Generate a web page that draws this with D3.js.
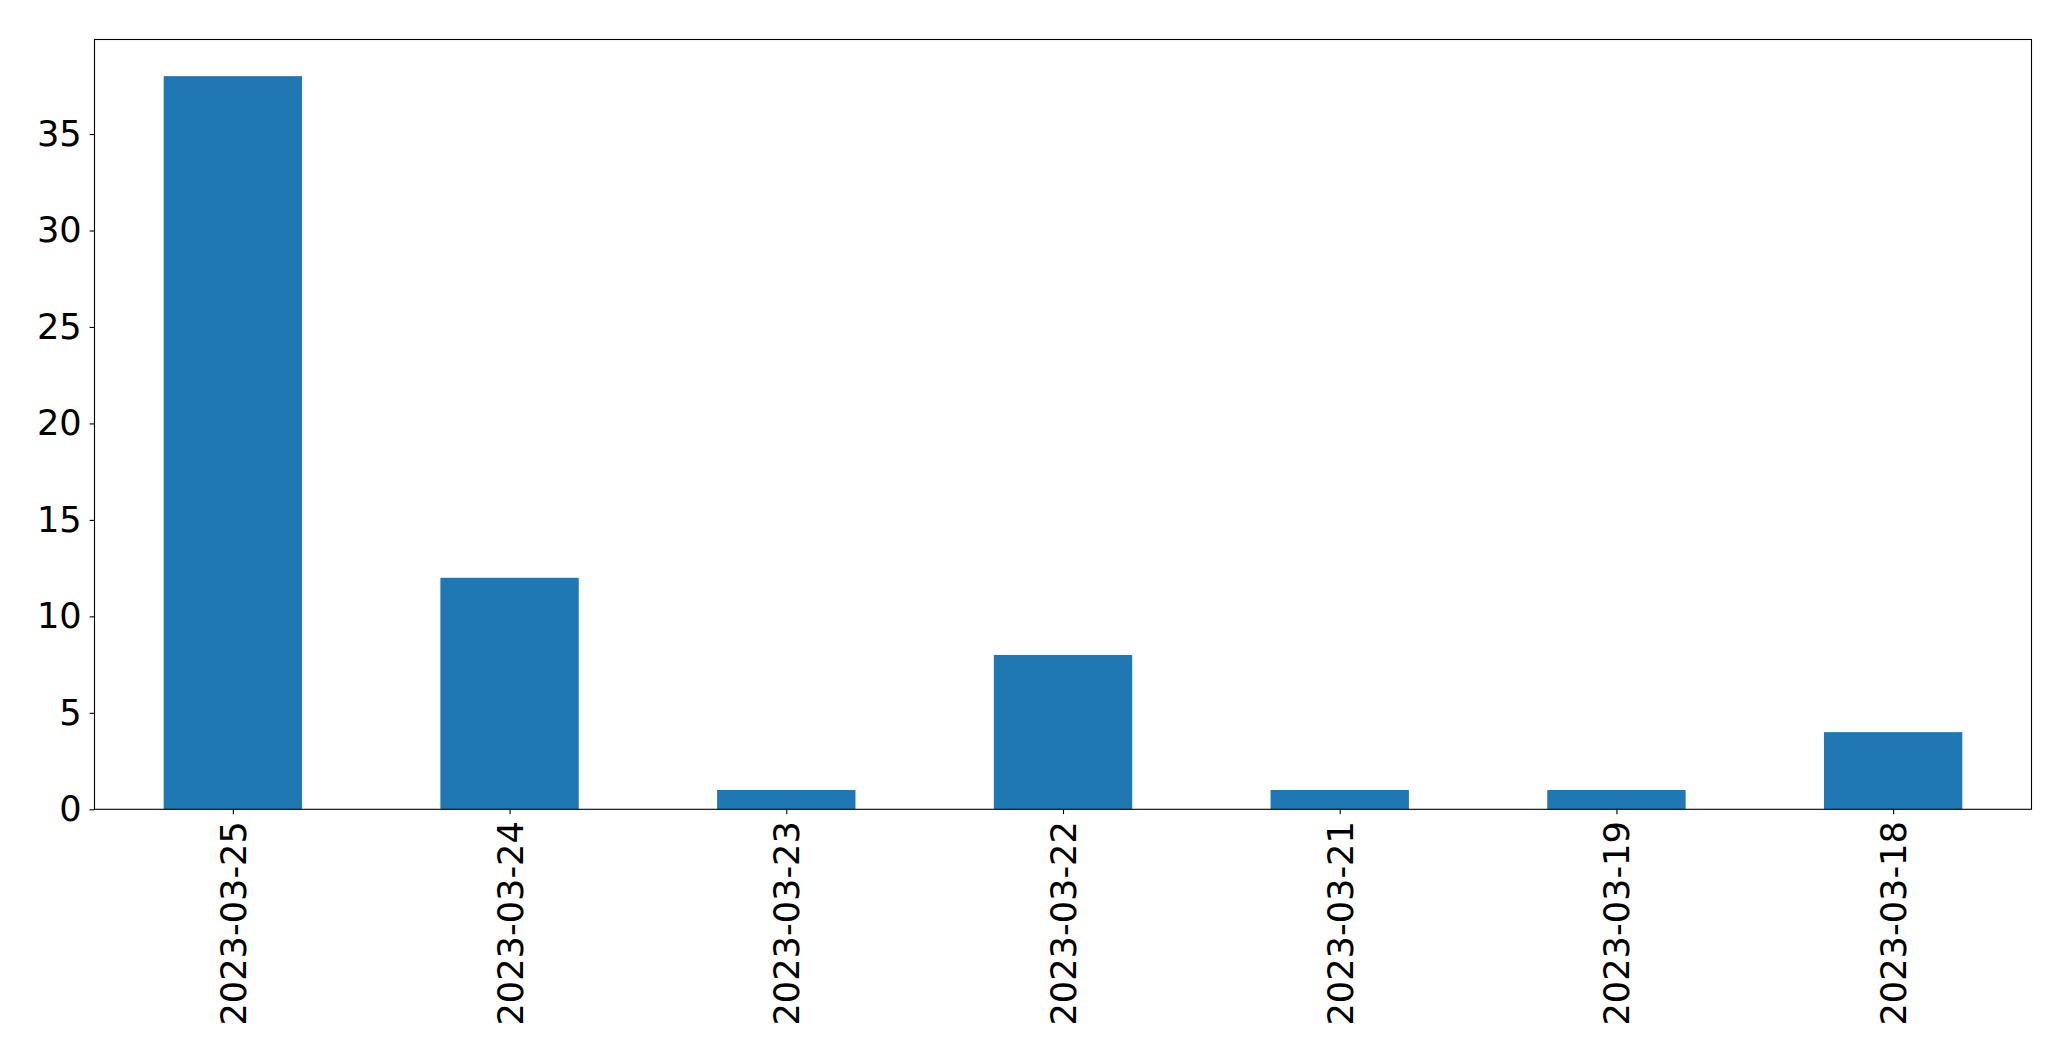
<!DOCTYPE html>
<html>
<head>
<meta charset="utf-8">
<script src="https://cdn.jsdelivr.net/npm/d3@7"></script>
<style>
  html, body { margin: 0; padding: 0; background: #fff; }
  svg { display: block; }
  text { font-family: "DejaVu Sans", sans-serif; fill: #000; }
</style>
</head>
<body>
<svg id="chart" width="2071" height="1061"></svg>
<script>
const categories = ["2023-03-25", "2023-03-24", "2023-03-23", "2023-03-22", "2023-03-21", "2023-03-19", "2023-03-18"];
const values = [38, 12, 1, 8, 1, 1, 4];
const yTicks = [0, 5, 10, 15, 20, 25, 30, 35];

(function () {
const mLeft = 94.5, mRight = 2031.5, mTop = 39.5, mBottom = 809.3;
const fontSize = 35.2;
const tickLen = 4.9, tickPad = 4.9;

const svg = d3.select("#chart");

const x = d3.scaleLinear().domain([-0.5, categories.length - 0.5]).range([mLeft, mRight]);
const y = d3.scaleLinear().domain([0, d3.max(values) * 1.05]).range([mBottom, mTop]);
const barW = x(0.25) - x(-0.25);

// bars
svg.append("g").selectAll("rect")
  .data(values)
  .join("rect")
  .attr("x", (d, i) => x(i) - barW / 2)
  .attr("width", barW)
  .attr("y", d => y(d))
  .attr("height", d => y(0) - y(d))
  .attr("fill", "#1f77b4");

// y axis
const yAxis = d3.axisLeft(y).tickValues(yTicks).tickSize(tickLen).tickPadding(tickPad + 3).tickFormat(d3.format("d"));
const gy = svg.append("g").attr("transform", `translate(${mLeft},0)`).call(yAxis);
gy.select(".domain").remove();
gy.selectAll(".tick line").attr("stroke", "#000").attr("stroke-width", 1.1);
gy.selectAll(".tick text")
  .attr("font-size", fontSize)
  .attr("font-family", "DejaVu Sans")
  .attr("fill", "#000");

// x axis
const xAxis = d3.axisBottom(x).tickValues(d3.range(categories.length)).tickSize(tickLen).tickFormat(i => categories[i]);
const gx = svg.append("g").attr("transform", `translate(0,${mBottom})`).call(xAxis);
gx.select(".domain").remove();
gx.selectAll(".tick line").attr("stroke", "#000").attr("stroke-width", 1.1);
gx.selectAll(".tick text")
  .attr("font-size", fontSize)
  .attr("font-family", "DejaVu Sans")
  .attr("fill", "#000")
  .attr("x", 0)
  .attr("y", 0)
  .attr("dy", null)
  .attr("text-anchor", "end")
  .attr("dominant-baseline", "central")
  .attr("transform", `translate(0,${tickLen + tickPad + 2}) rotate(-90)`);

// frame
svg.append("rect")
  .attr("x", mLeft).attr("y", mTop)
  .attr("width", mRight - mLeft).attr("height", mBottom - mTop)
  .attr("fill", "none").attr("stroke", "#000").attr("stroke-width", 1.1);
})();
</script>
</body>
</html>
